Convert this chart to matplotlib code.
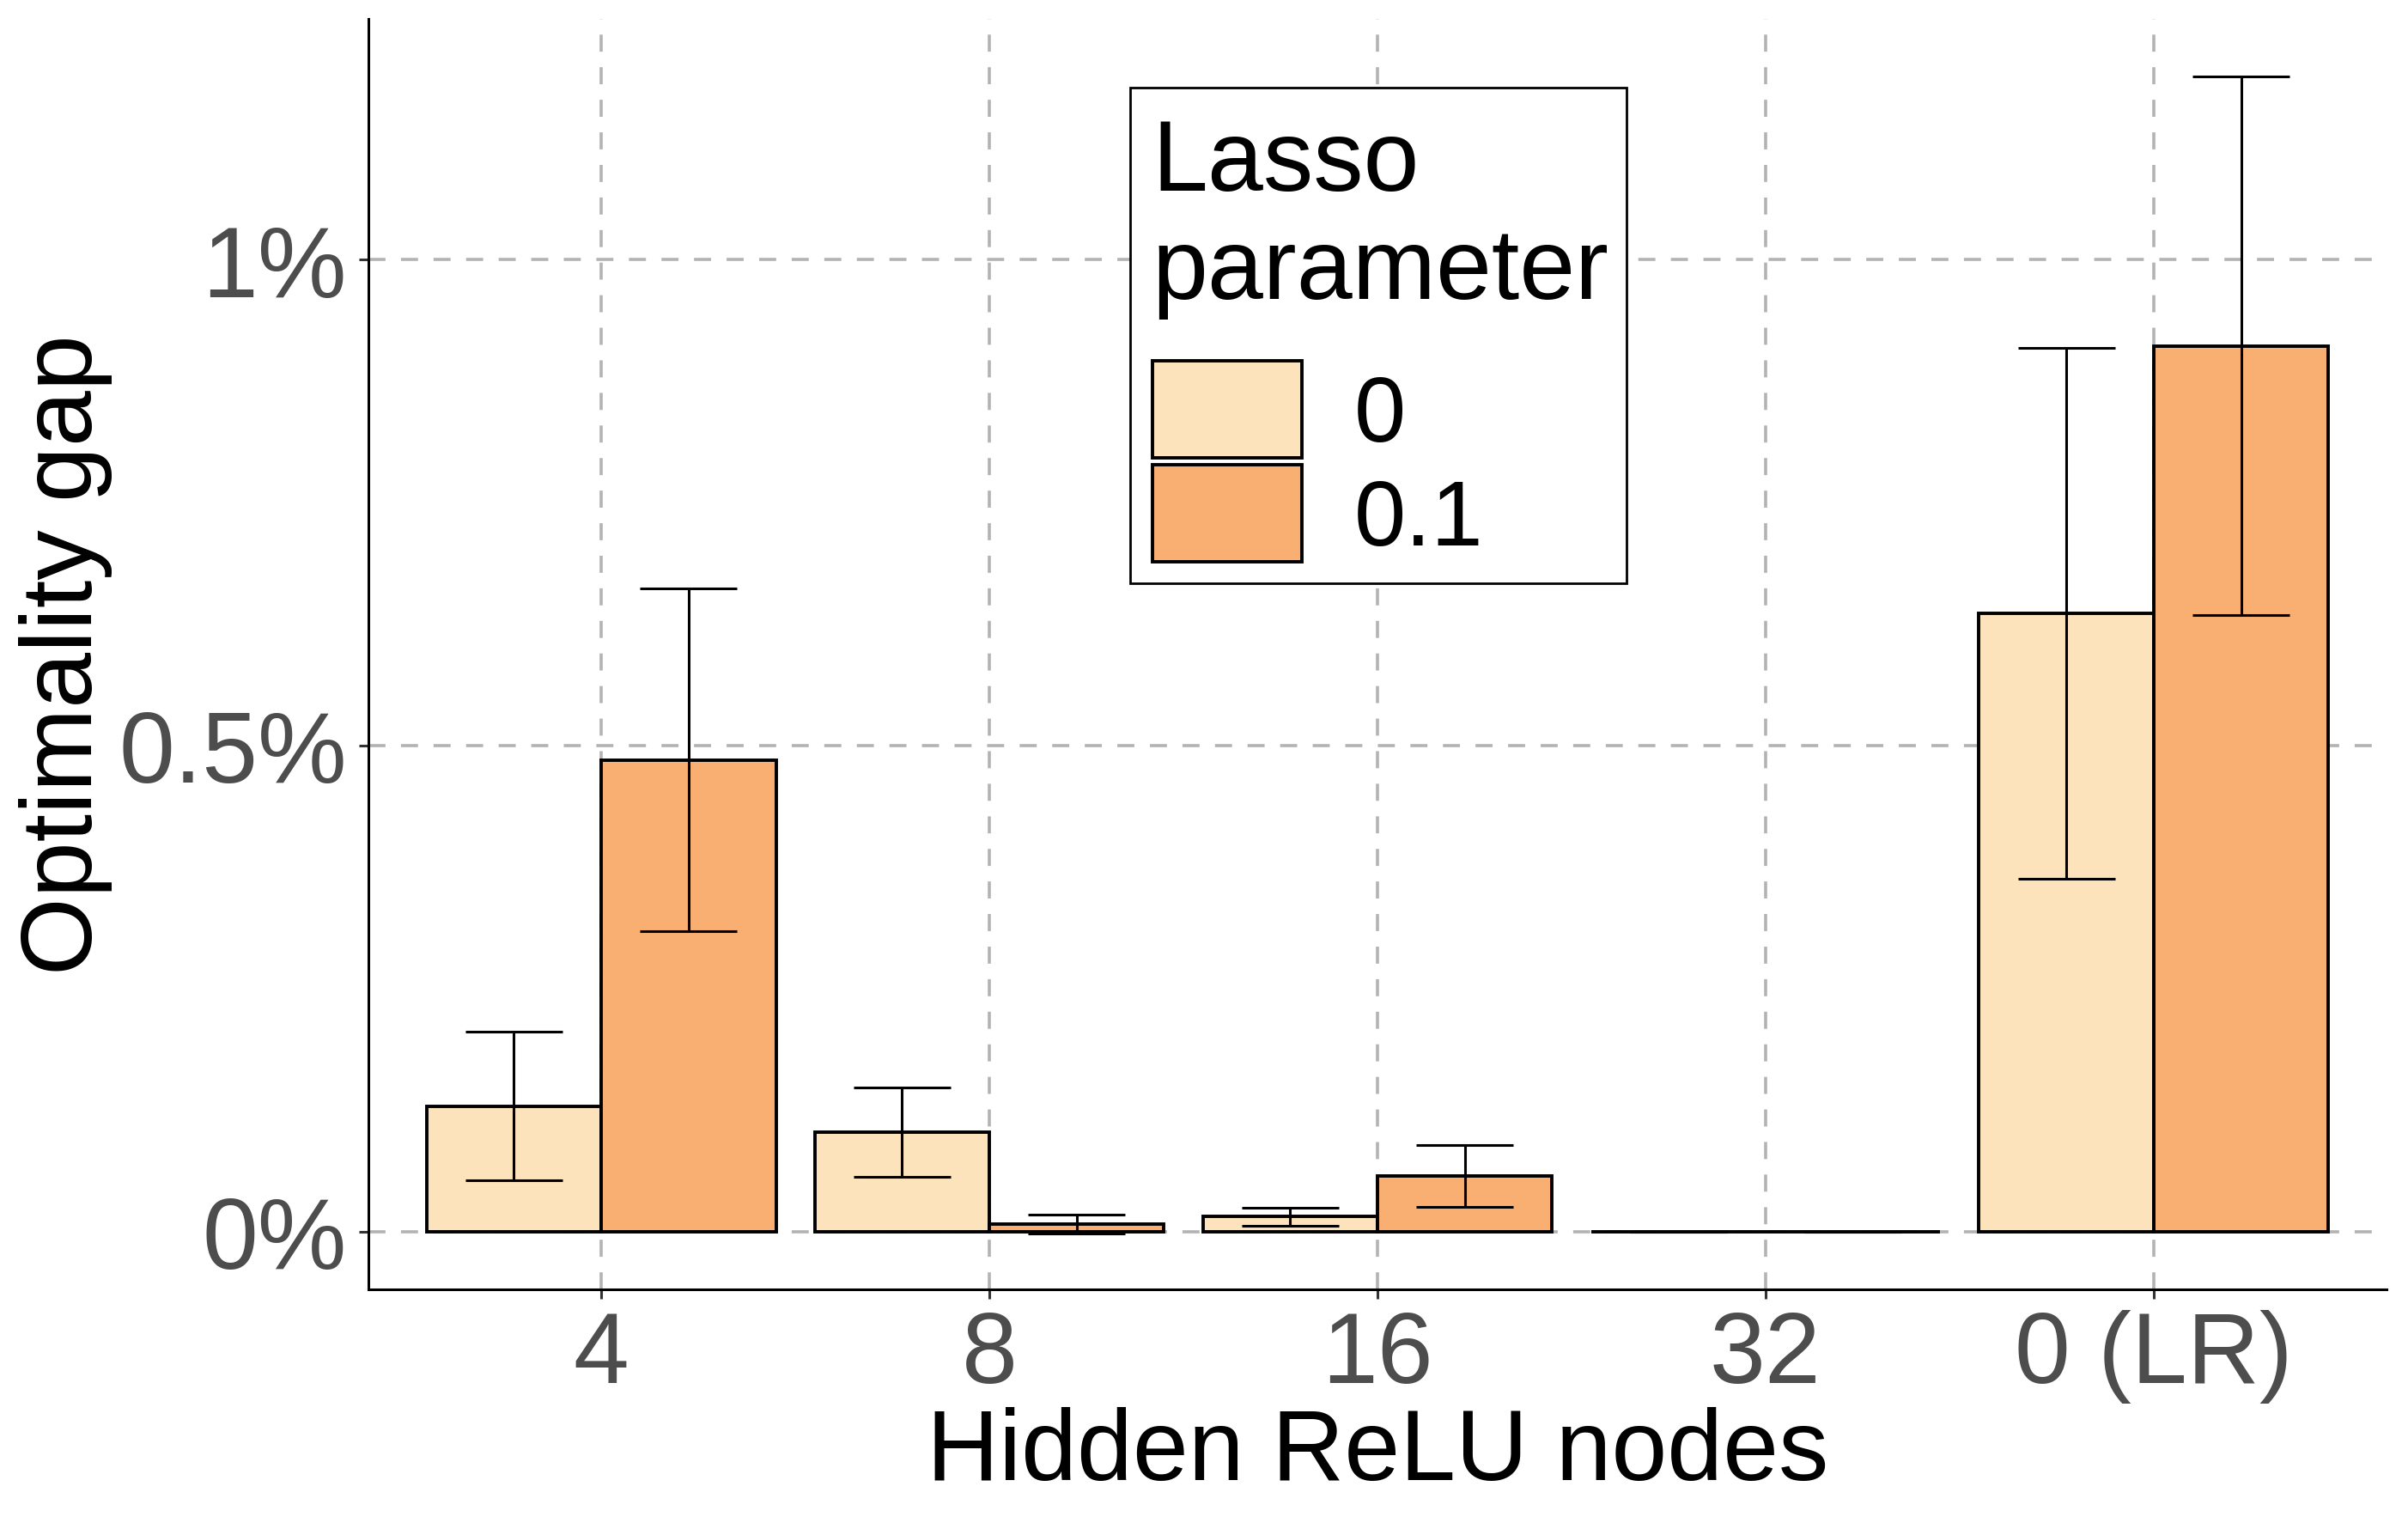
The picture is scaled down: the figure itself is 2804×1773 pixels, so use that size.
import numpy as np
import matplotlib
matplotlib.use("Agg")
import matplotlib.pyplot as plt
from matplotlib.patches import Rectangle

plt.rcParams['font.family'] = ['Liberation Sans', 'DejaVu Sans']

# data (optimality gap in %)
nodes = ["4", "8", "16", "32", "0 (LR)"]
lasso_levels = ["0", "0.1"]
gap_l0 = [0.129, 0.102, 0.0153, 0.0, 0.636]
low_l0 = [0.0523, 0.0559, 0.0062, 0.0, 0.363]
high_l0 = [0.2055, 0.148, 0.0247, 0.0, 0.909]
gap_l01 = [0.485, 0.008, 0.0573, 0.0, 0.911]
low_l01 = [0.309, -0.002, 0.0256, 0.0, 0.634]
high_l01 = [0.662, 0.0174, 0.089, 0.0, 1.188]
ytick_vals = [0, 0.5, 1.0]
ytick_labels = ["0%", "0.5%", "1%"]

colors = ["#FCE3BC", "#F9AE72"]
bar_w = 0.45
cap_half = 0.125

W, H = 2804, 1774
fig = plt.figure(figsize=(W / 200, H / 200), dpi=200)
# axes box in pixels: left 429, right 2779, top 23, bottom 1502
ax_l, ax_r, ax_t, ax_b = 429, 2779, 23, 1502
ax = fig.add_axes([ax_l / W, 1 - ax_b / H, (ax_r - ax_l) / W, (ax_b - ax_t) / H])

x = np.arange(1, len(nodes) + 1)
series = [(gap_l0, low_l0, high_l0), (gap_l01, low_l01, high_l01)]
offsets = [-bar_w / 2, bar_w / 2]
for (g, lo, hi), off, col in zip(series, offsets, colors):
    ax.bar(x + off, g, width=bar_w, color=col, edgecolor="black",
           linewidth=1.4, zorder=2)
    ax.vlines(x + off, lo, hi, color="black", linewidth=1.1, zorder=3)
    ax.hlines(lo, x + off - cap_half, x + off + cap_half, color="black",
              linewidth=1.1, zorder=3)
    ax.hlines(hi, x + off - cap_half, x + off + cap_half, color="black",
              linewidth=1.1, zorder=3)

ax.set_xlim(0.4, 5.6)
ax.set_ylim(-0.0595, 1.2475)
ax.set_xticks(x)
ax.set_xticklabels(nodes)
ax.set_yticks(ytick_vals)
ax.set_yticklabels(ytick_labels)

ax.set_axisbelow(True)
ax.grid(True, color="#B3B3B3", linewidth=1.3, linestyle=(0, (5.5, 5)))

for s in ["top", "right"]:
    ax.spines[s].set_visible(False)
for s in ["left", "bottom"]:
    ax.spines[s].set_linewidth(1.1)
    ax.spines[s].set_color("black")

ax.tick_params(axis="both", length=4, width=1.1, color="#333333",
               labelcolor="#4D4D4D", labelsize=42)
ax.tick_params(axis="x", pad=4.3)
ax.tick_params(axis="y", pad=5)

ax.set_xlabel("Hidden ReLU nodes", fontsize=42, color="black")
ax.set_ylabel("Optimality gap", fontsize=42, color="black")
ax.xaxis.set_label_coords(0.5, -0.092)
ax.yaxis.set_label_coords(-0.127, 0.5)


# legend drawn by hand (ggplot style), placed in pixel units
def px(X, Y):
    return ((X - ax_l) / (ax_r - ax_l), (ax_b - Y) / (ax_b - ax_t))


def box(x0, y0, x1, y1, **kw):
    (a, b), (c, d) = px(x0, y1), px(x1, y0)
    ax.add_patch(Rectangle((a, b), c - a, d - b, transform=ax.transAxes,
                           clip_on=False, **kw))


box(1316, 103, 1894, 680, facecolor="white", edgecolor="black",
    linewidth=1.0, zorder=5)
for i, lab in enumerate(["Lasso", "parameter"]):
    ax.text(*px(1341, 222 + 126 * i), lab, transform=ax.transAxes,
            fontsize=42, ha="left", va="baseline", zorder=6)
key_tops = [421, 542]
for top, col, lab in zip(key_tops, colors, lasso_levels):
    box(1342, top, 1516, top + 113, facecolor=col, edgecolor="black",
        linewidth=1.4, zorder=6)
    ax.text(*px(1577, top + 93), lab, transform=ax.transAxes,
            fontsize=39, ha="left", va="baseline", zorder=6)

fig.savefig("out.png", dpi=200)
